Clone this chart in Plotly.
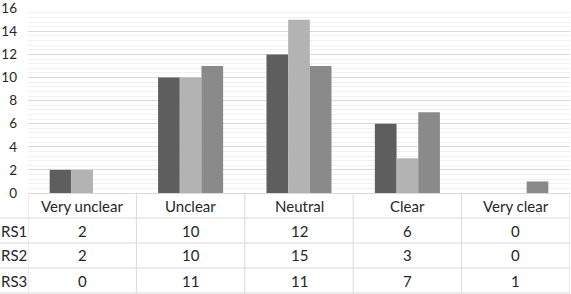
import plotly.graph_objects as go

categories = ["Very unclear", "Unclear", "Neutral", "Clear", "Very clear"]
series_names = ["RS1", "RS2", "RS3"]
rs1 = [2, 10, 12, 6, 0]
rs2 = [2, 10, 15, 3, 0]
rs3 = [0, 11, 11, 7, 1]
series_values = [rs1, rs2, rs3]
colors = ["#5e5e5e", "#b3b3b3", "#8a8a8a"]
y_ticks = [0, 2, 4, 6, 8, 10, 12, 14, 16]

W, H = 571, 294
ml, mr, mt, mb = 28, 1, 8, 101
plot_h = H - mt - mb
plot_w = W - ml - mr

font_family = "Lato"
text_color = "#262626"
line_color = "#d9d9d9"
tsize = 15

fig = go.Figure()
for name, vals, c in zip(series_names, series_values, colors):
    fig.add_trace(go.Bar(x=list(range(len(categories))), y=vals, name=name,
                         marker=dict(color=c, line=dict(width=0))))

def py(p):
    return (H - mb - p) / plot_h

row_h = 25
header_top = H - mb
rows_y = [header_top + row_h * (i + 1) for i in range(4)]

shapes = []
annotations = []
left_paper = -ml / plot_w
for k, yb in enumerate(rows_y):
    shapes.append(dict(type="line", xref="paper", yref="paper",
                       x0=left_paper, x1=1, y0=py(yb), y1=py(yb),
                       line=dict(color=line_color, width=1)))
for i in range(len(categories) + 1):
    shapes.append(dict(type="line", xref="x", yref="paper",
                       x0=i - 0.5, x1=i - 0.5, y0=0, y1=py(rows_y[-1]),
                       line=dict(color=line_color, width=1)))

for i, cat in enumerate(categories):
    annotations.append(dict(x=i, y=py(header_top + row_h / 2), xref="x", yref="paper",
                            text=cat, showarrow=False, xanchor="center", yanchor="middle",
                            font=dict(size=tsize, color=text_color, family=font_family)))
for r, (name, vals) in enumerate(zip(series_names, series_values)):
    yc = py(header_top + row_h * (r + 1) + row_h / 2)
    annotations.append(dict(x=left_paper, y=yc, xref="paper", yref="paper",
                            text=name, showarrow=False, xanchor="left", yanchor="middle",
                            xshift=-1,
                            font=dict(size=tsize, color=text_color, family=font_family)))
    for i, v in enumerate(vals):
        annotations.append(dict(x=i, y=yc, xref="x", yref="paper",
                                text=str(v), showarrow=False, xanchor="center", yanchor="middle",
                                font=dict(size=tsize, color=text_color, family=font_family)))

fig.update_layout(
    width=W, height=H,
    margin=dict(l=ml, r=mr, t=mt, b=mb, autoexpand=False),
    paper_bgcolor="white", plot_bgcolor="white",
    barmode="group", bargap=0.4, bargroupgap=0,
    showlegend=False,
    shapes=shapes, annotations=annotations,
    font=dict(family=font_family, color=text_color),
    xaxis=dict(range=[-0.5, len(categories) - 0.5], showticklabels=False,
               showgrid=False, zeroline=False, showline=True, automargin=False,
               linecolor=line_color, linewidth=1, ticks=""),
    yaxis=dict(range=[0, 16.02], tickvals=y_ticks, ticktext=[str(t) for t in y_ticks],
               showgrid=True, gridcolor=line_color, gridwidth=1, automargin=False,
               zeroline=False, showline=False, ticks="",
               ticklabelstandoff=10, ticklabeloverflow="allow",
               tickfont=dict(size=13.5, color=text_color, family=font_family),
               minor=dict(dtick=0.4, showgrid=True, gridcolor="#f1f1f1", gridwidth=1)),
)

fig.write_html("out.html")
